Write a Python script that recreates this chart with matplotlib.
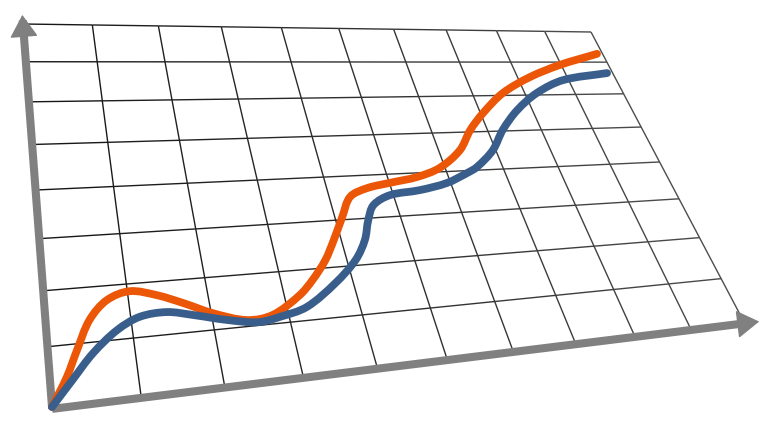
import numpy as np
import matplotlib
matplotlib.use("Agg")
import matplotlib.pyplot as plt
from matplotlib.transforms import Transform
from matplotlib.path import Path
from matplotlib.patches import PathPatch
from matplotlib.collections import LineCollection

# grid size (columns x rows) and the two series, in grid units
n_cols = 10
n_rows = 8

orange_x = [0, 0.19, 0.33, 0.51, 0.74, 1.03, 1.36, 1.67, 2.02, 2.44, 2.79, 3.21, 3.44,
            3.69, 3.89, 4.11, 4.32, 4.62, 5.01, 5.48, 5.91, 6.37, 6.69, 7.05, 7.58,
            8.25, 8.97, 9.88]
orange_y = [0, 0.46, 0.89, 1.40, 1.73, 1.86, 1.74, 1.55, 1.31, 1.12, 1.17, 1.50, 1.78,
            2.16, 2.57, 3.06, 3.51, 3.69, 3.79, 3.90, 4.10, 4.53, 5.05, 5.51, 6.07,
            6.54, 6.91, 7.27]

blue_x = [0, 0.25, 0.51, 0.82, 1.11, 1.45, 1.77, 2.18, 2.58, 2.88, 3.27, 3.75, 4.13,
          4.35, 4.49, 4.64, 4.95, 5.45, 5.94, 6.34, 6.55, 6.95, 7.28, 7.71, 8.24,
          8.89, 9.88]
blue_y = [0, 0.40, 0.81, 1.17, 1.37, 1.41, 1.31, 1.16, 1.06, 1.12, 1.26, 1.68, 2.12,
          2.53, 2.96, 3.29, 3.50, 3.58, 3.72, 3.94, 4.08, 4.50, 5.03, 5.57, 6.06,
          6.44, 6.65]

# where the grid corners land on the canvas (pixels, y down)
corners_src = [(0, 0), (n_cols, 0), (n_cols, n_rows), (0, n_rows)]
corners_dst = [(52, 407), (744, 322), (591, 32), (23, 24)]


def homography(src, dst):
    A, b = [], []
    for (u, v), (x, y) in zip(src, dst):
        A.append([u, v, 1, 0, 0, 0, -u * x, -v * x]); b.append(x)
        A.append([0, 0, 0, u, v, 1, -u * y, -v * y]); b.append(y)
    h = np.linalg.solve(np.array(A, float), np.array(b, float))
    return np.append(h, 1).reshape(3, 3)


class Perspective(Transform):
    input_dims = output_dims = 2

    def __init__(self, H):
        super().__init__()
        self.H = H

    def transform_non_affine(self, values):
        values = np.asarray(values, float)
        p = np.column_stack([values, np.ones(len(values))]) @ self.H.T
        return p[:, :2] / p[:, 2:]


persp = Perspective(homography(corners_src, corners_dst))


def smooth_path(xs, ys):
    # catmull-rom with chord-length knots (measured on screen), as bezier segments
    P = np.column_stack([xs, ys]).astype(float)
    scr = persp.transform_non_affine(P)
    t = np.concatenate([[0], np.cumsum(np.hypot(*np.diff(scr, axis=0).T))])
    n = len(P)
    m = np.zeros_like(P)
    for i in range(n):
        a, b = max(i - 1, 0), min(i + 1, n - 1)
        m[i] = (P[b] - P[a]) / (t[b] - t[a])
    verts, codes = [P[0]], [Path.MOVETO]
    for i in range(n - 1):
        dt = t[i + 1] - t[i]
        verts += [P[i] + m[i] * dt / 3, P[i + 1] - m[i + 1] * dt / 3, P[i + 1]]
        codes += [Path.CURVE4] * 3
    return Path(verts, codes)


fig = plt.figure(figsize=(7.6, 4.3), dpi=100)
ax = fig.add_axes([0, 0, 1, 1])
ax.axis("off")

T = persp + ax.transData

# grid, going a little lighter toward the far (right) side
segs, cols = [], []
for i in range(n_cols + 1):
    segs.append([(i, 0), (i, n_rows)])
    cols.append(str(0.08 + 0.22 * i / n_cols))
for j in range(n_rows + 1):
    for i in range(n_cols):
        segs.append([(i, j), (i + 1, j)])
        cols.append(str(0.08 + 0.22 * (i + 0.5) / n_cols))
ax.add_collection(LineCollection(segs, colors=cols, linewidths=1.0,
                                 transform=T, zorder=1))

# axes with arrow heads
axis_grey = "#808080"
ax.plot([0, 10.15], [-0.03, -0.03], transform=T, color=axis_grey, lw=5.8,
        solid_capstyle="butt", zorder=2)
ax.plot([0, 0], [-0.03, 8.1], transform=T, color=axis_grey, lw=5.8,
        solid_capstyle="butt", zorder=2)
head = dict(arrowstyle="-|>,head_length=0.8,head_width=0.5", color=axis_grey,
            lw=1, mutation_scale=18, shrinkA=0, shrinkB=0)
ax.annotate("", xy=(10.28, -0.03), xytext=(9.9, -0.03), xycoords=T,
            textcoords=T, arrowprops=head, zorder=3)
ax.annotate("", xy=(0, 8.25), xytext=(0, 7.9), xycoords=T,
            textcoords=T, arrowprops=head, zorder=3)

# the two series
for xs, ys, col in [(orange_x, orange_y, "#EB5607"), (blue_x, blue_y, "#3A5E8C")]:
    ax.add_patch(PathPatch(smooth_path(xs, ys), transform=T, fill=False,
                           edgecolor=col, lw=5.6, capstyle="round",
                           joinstyle="round", zorder=4))

ax.set_xlim(0, 760)
ax.set_ylim(430, 0)
fig.savefig("out.png", dpi=100)
